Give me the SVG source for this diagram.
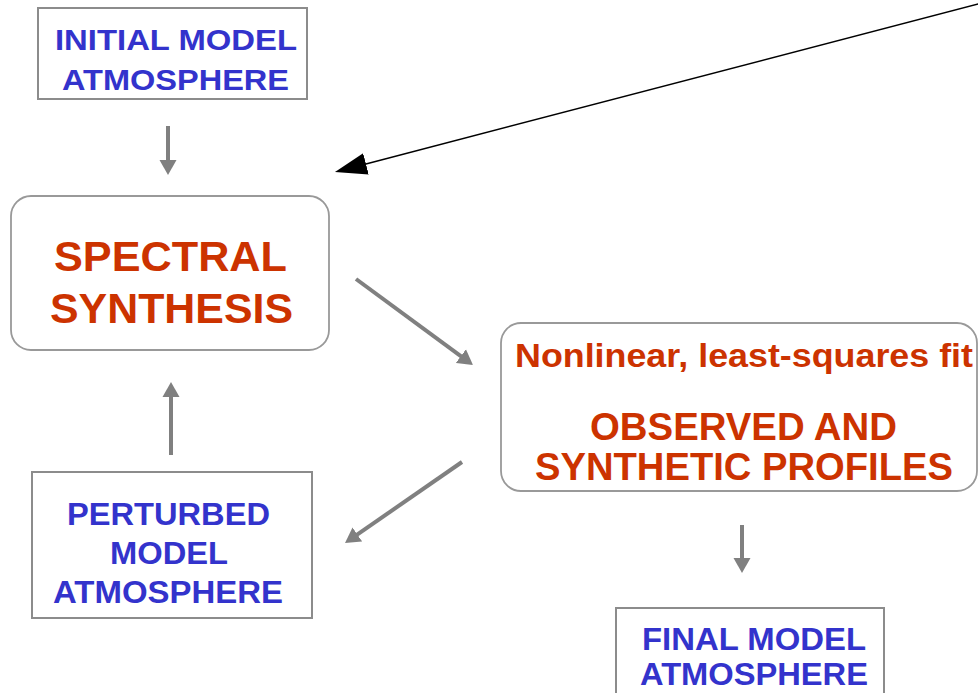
<svg xmlns="http://www.w3.org/2000/svg" width="978" height="693" viewBox="0 0 978 693">
<style>
.box{fill:#fff;stroke:#8c8c8c;stroke-width:2}
.rbox{fill:#fff;stroke:#999;stroke-width:1.8}
.blue{font-family:"Liberation Sans",Arial,sans-serif;font-weight:bold;fill:#3333cc;text-anchor:middle}
.red{font-family:"Liberation Sans",Arial,sans-serif;font-weight:bold;fill:#cc3300;text-anchor:middle}
.conn{stroke:#808080;stroke-width:4;fill:none}
.blk{stroke:#000;stroke-width:1.5;fill:none}
</style>
<defs>
<marker id="ga" markerUnits="userSpaceOnUse" markerWidth="16" markerHeight="18" refX="2" refY="8.5" orient="auto" viewBox="0 0 16 17">
<path d="M0,0 L15,8.5 L0,17 z" fill="#808080"/>
</marker>
<marker id="ba" markerUnits="userSpaceOnUse" markerWidth="33" markerHeight="22" refX="2" refY="11" orient="auto" viewBox="0 0 33 22">
<path d="M0,0 L32,11 L0,22 z" fill="#000"/>
</marker>
</defs>
<rect width="978" height="693" fill="#fff"/>
<g id="connectors">
<line class="conn" x1="168" y1="126" x2="168" y2="162" marker-end="url(#ga)"/>
<line class="conn" x1="356" y1="279" x2="462.5" y2="357.3" marker-end="url(#ga)"/>
<line class="conn" x1="462" y1="462" x2="355.7" y2="535.6" marker-end="url(#ga)"/>
<line class="conn" x1="171" y1="455" x2="171" y2="395" marker-end="url(#ga)"/>
<line class="conn" x1="742" y1="525" x2="742" y2="560" marker-end="url(#ga)"/>
<line class="blk" x1="980" y1="3.5" x2="364" y2="164.4" marker-end="url(#ba)"/>
</g>
<g id="initial">
<rect class="box" x="38" y="8" width="269" height="91"/>
<text class="blue" x="176" y="50" font-size="30" textLength="242" lengthAdjust="spacingAndGlyphs">INITIAL MODEL</text>
<text class="blue" x="175.5" y="90" font-size="30" textLength="227" lengthAdjust="spacingAndGlyphs">ATMOSPHERE</text>
</g>
<g id="spectral">
<rect class="rbox" x="11" y="196" width="318" height="154" rx="20"/>
<text class="red" x="170.5" y="271" font-size="42" textLength="233" lengthAdjust="spacingAndGlyphs">SPECTRAL</text>
<text class="red" x="171.5" y="323" font-size="42" textLength="243" lengthAdjust="spacingAndGlyphs">SYNTHESIS</text>
</g>
<g id="observed">
<rect class="rbox" x="501" y="323" width="476" height="168" rx="20"/>
<text class="red" x="744" y="367" font-size="33" textLength="458" lengthAdjust="spacingAndGlyphs">Nonlinear, least-squares fit</text>
<text class="red" x="743.5" y="440" font-size="38" textLength="307" lengthAdjust="spacingAndGlyphs">OBSERVED AND</text>
<text class="red" x="744" y="480" font-size="38" textLength="418" lengthAdjust="spacingAndGlyphs">SYNTHETIC PROFILES</text>
</g>
<g id="perturbed">
<rect class="box" x="32" y="472" width="280" height="146"/>
<text class="blue" x="168.5" y="525" font-size="32" textLength="203" lengthAdjust="spacingAndGlyphs">PERTURBED</text>
<text class="blue" x="169" y="564" font-size="32" textLength="118" lengthAdjust="spacingAndGlyphs">MODEL</text>
<text class="blue" x="168" y="603" font-size="32" textLength="230" lengthAdjust="spacingAndGlyphs">ATMOSPHERE</text>
</g>
<g id="final">
<rect class="box" x="616" y="608" width="268" height="100"/>
<text class="blue" x="754" y="650" font-size="31" textLength="224" lengthAdjust="spacingAndGlyphs">FINAL MODEL</text>
<text class="blue" x="754" y="685" font-size="31" textLength="228" lengthAdjust="spacingAndGlyphs">ATMOSPHERE</text>
</g>
</svg>
